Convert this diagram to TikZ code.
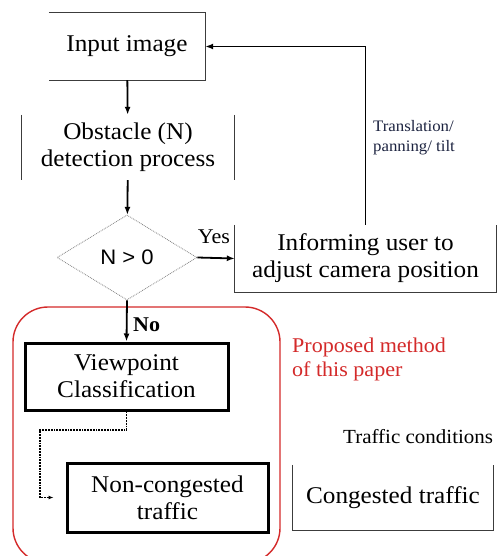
\documentclass[tikz,border=0pt]{standalone}
\usepackage{fontspec}
\setmainfont{Liberation Serif}[FakeStretch=1.05]
\newfontfamily\sansfont{Liberation Sans}[FakeStretch=1.05]
\usetikzlibrary{arrows.meta,positioning,shapes.geometric}
\definecolor{ink}{HTML}{1A1A1A}
\definecolor{redline}{HTML}{D42A2A}
\definecolor{navy}{HTML}{1C2340}
\tikzset{
  txt/.style={align=center,font=\fontsize{24}{27}\selectfont,inner sep=0pt},
  edge/.style={draw=ink!85,line width=1pt},
  thickbox/.style={txt,draw=black,line width=3pt},
  arr/.style={-{Latex[length=8pt,width=6pt]},line width=1.8pt},
  dotarr/.style={-{Latex[length=5pt,width=4pt]},densely dotted,line width=1.8pt},
  lab/.style={font=\fontsize{21}{24}\selectfont,inner sep=0pt},
}

\begin{document}
\begin{tikzpicture}[x=1pt,y=-1pt]
  \clip (0,0) rectangle (499,556);
  \fill[white] (0,0) rectangle (499,556);
  % proposed method frame
  \draw[draw=redline,line width=1.4pt,rounded corners=35pt] (13,307) rectangle (280,563);
  % main column
  \node[txt,minimum width=156pt,minimum height=67pt] (input) at (127,46.5) {Input image};
  \draw[edge] (input.north west) -- (input.north east) -- (input.south east) -- (input.south west);
  \node[txt,minimum width=212pt,minimum height=65pt] (obst) at (128,147.5) {Obstacle (N)\\detection process};
  \draw[edge] (obst.north west) -- (obst.south west);
  \draw[edge] (obst.north east) -- (obst.south east);
  \node[diamond,draw=gray,densely dotted,line width=0.8pt,minimum width=140pt,minimum height=85pt,
    inner sep=0pt,font=\sansfont\fontsize{21}{24}\selectfont] (test) at (127,257.5) {N > 0};
  \node[txt,minimum width=261pt,minimum height=67pt] (inform) at (365.5,258.5) {Informing user to\\adjust camera position};
  \draw[edge] (inform.north west) -- (inform.south west) -- (inform.south east) -- (inform.north east);
  % proposed method
  \node[thickbox,minimum width=203pt,minimum height=67pt] (view) at (126.5,376.5) {Viewpoint\\Classification};
  \node[thickbox,minimum width=201pt,minimum height=69pt] (noncong) at (167.5,497.5) {Non-congested\\traffic};
  \node[txt,minimum width=200pt,minimum height=65pt] (cong) at (393,497.5) {Congested traffic};
  \draw[edge] (cong.north west) -- (cong.south west) -- (cong.south east) -- (cong.north east);
  % connectors
  \draw[arr] (input) -- (obst);
  \draw[arr] (obst) -- (test);
  \draw[arr] (test.east) -- (inform.west);
  \draw[arr] (inform.north) |- (input.east);
  \draw[arr] (test.south) -- (view.north);
  \coordinate (bend) at (40,430);
  \coordinate (dotend) at ([xshift=-12pt]noncong.west);
  \draw[dotarr] (view.south) |- (bend) |- (dotend);
  % labels
  \node[lab] (yes) at (214,237) {Yes};
  \node[lab,anchor=west,font=\bfseries\fontsize{21}{24}\selectfont] (no) at (133,325) {No};
  \node[anchor=west,align=left,inner sep=0pt,text=navy,font=\fontsize{16}{20}\selectfont] (move) at (373,138) {Translation/\\panning/ tilt};
  \node[lab,anchor=west,align=left,text=redline] (ours) at (292,359) {Proposed method\\of this paper};
  \node[lab,anchor=west,font=\fontsize{20}{24}\selectfont] (cond) at (343,437) {Traffic conditions};
\end{tikzpicture}
\end{document}
